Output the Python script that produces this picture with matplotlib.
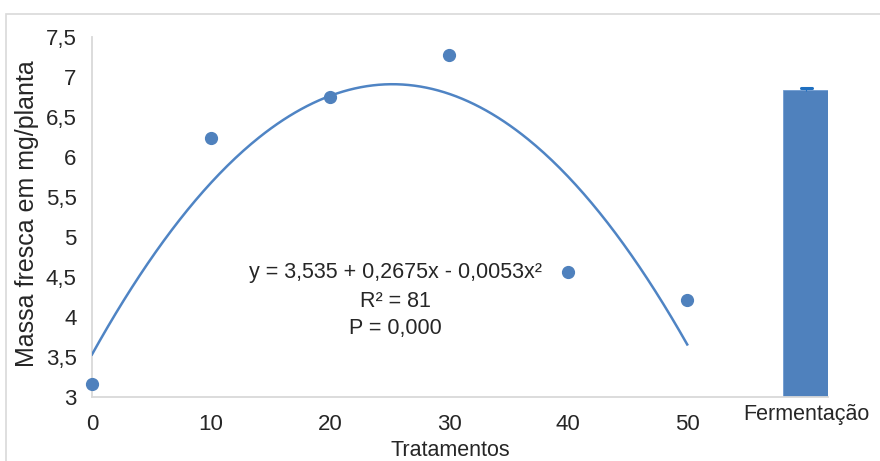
import numpy as np
import matplotlib
matplotlib.use("Agg")
import matplotlib.pyplot as plt
from matplotlib.patches import Rectangle

plt.rcParams['font.family'] = ['Liberation Sans', 'DejaVu Sans']

# Data
tratamentos = [0, 10, 20, 30, 40, 50]
massa = [3.16, 6.24, 6.75, 7.275, 4.56, 4.22]
bar_label = "Fermentação"
bar_pos = 60
bar_value = 6.84
bar_err = 0.02
coef = [3.535, 0.2675, -0.0053]  # y = a + b x + c x^2
yticks = [3, 3.5, 4, 4.5, 5, 5.5, 6, 6.5, 7, 7.5]
ytick_labels = ["3", "3,5", "4", "4,5", "5", "5,5", "6", "6,5", "7", "7,5"]
xticks = [0, 10, 20, 30, 40, 50]
eq_lines = ["y = 3,535 + 0,2675x - 0,0053x²", "R² = 81", "P = 0,000"]

W, H = 880, 461
fig = plt.figure(figsize=(W / 100, H / 100), dpi=100)
fig.patch.set_facecolor("white")

# outer frame
fig.patches.append(Rectangle((6 / W, -0.1), 1.2, 1 - 14 / H + 0.1, transform=fig.transFigure,
                             fill=False, edgecolor="#d9d9d9", lw=1.2))

left, right = 92 / W, 827.7 / W
bottom, top = 1 - 397.3 / H, 1 - 37 / H
ax = fig.add_axes([left, bottom, right - left, top - bottom])

blue = "#4f81bd"
gray = "#d9d9d9"

ax.bar(bar_pos, bar_value - 3, bottom=3, width=3.95, color=blue, edgecolor="#6f9bd0", lw=0.6, zorder=2)
ax.errorbar(bar_pos, bar_value, yerr=bar_err, fmt="none", ecolor="#1f6fc0", capsize=0, lw=0.8, zorder=3)
ax.plot([bar_pos - 0.45, bar_pos + 0.45], [bar_value + bar_err, bar_value + bar_err], color="#1f6fc0", lw=2.2, zorder=3,
        solid_capstyle="round")

xs = np.linspace(0, 50, 300)
ys = coef[0] + coef[1] * xs + coef[2] * xs ** 2
ax.plot(xs, ys, color="#4f84c4", lw=1.8, zorder=3)
ax.plot(tratamentos, massa, "o", color=blue, ms=8.5, zorder=4, clip_on=False)

ax.set_xlim(0, 61.8)
ax.set_ylim(3, 7.5)
ax.set_yticks(yticks)
ax.set_yticklabels(ytick_labels)
ax.set_xticks(xticks)
ax.set_xticklabels([str(t) for t in xticks])
ax.tick_params(axis="both", length=0, labelsize=16, colors="#262626")
ax.tick_params(axis="y", pad=11)
ax.tick_params(axis="x", pad=12)

for s in ["top", "right"]:
    ax.spines[s].set_visible(False)
for s in ["left", "bottom"]:
    ax.spines[s].set_color(gray)
    ax.spines[s].set_linewidth(1.3)

ax.text(bar_pos, 2.78, bar_label, ha="center", va="center", fontsize=15.5, color="#262626")

ax.set_xlabel("Tratamentos", fontsize=15.5, color="#262626")
ax.xaxis.set_label_coords((450 / W - left) / (right - left), -(450 - 397.3) / (397.3 - 37))
ax.xaxis.label.set_va("center")
ax.set_ylabel("Massa fresca em mg/planta", fontsize=18, color="#262626")
ax.yaxis.set_label_coords((27 - 92) / (827.7 - 92), (397.3 - 214) / (397.3 - 37))
ax.yaxis.label.set_va("center")

eq_y = [4.56, 4.2, 3.86]
for line, yy in zip(eq_lines, eq_y):
    ax.text(25.5, yy, line, ha="center", va="center", fontsize=15.5, color="#262626")

fig.savefig("out.png", dpi=100)
